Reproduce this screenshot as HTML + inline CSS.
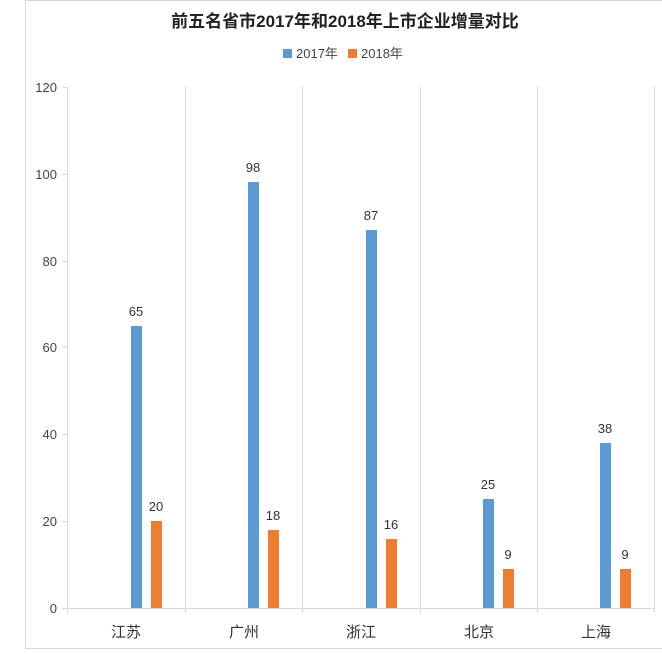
<!DOCTYPE html><html><head><meta charset="utf-8"><style>body{margin:0;background:#fff}svg{display:block}</style></head><body>
<svg width="662" height="654" xmlns="http://www.w3.org/2000/svg" font-family="Liberation Sans, Noto Sans CJK SC, sans-serif">
<rect x="25.5" y="0.5" width="660" height="648" fill="#fff" stroke="#d9d9d9"/>
<text x="345" y="27" text-anchor="middle" font-size="17" font-weight="bold" fill="#222">前五名省市2017年和2018年上市企业增量对比</text>
<rect x="283" y="49" width="9" height="9" fill="#5b9bd5"/><text x="296" y="58" font-size="13" fill="#444">2017年</text>
<rect x="348" y="49" width="9" height="9" fill="#ed7d31"/><text x="361" y="58" font-size="13" fill="#444">2018年</text>
<g stroke="#d9d9d9" stroke-width="1">
<line x1="67.5" y1="87" x2="67.5" y2="613"/><line x1="185.5" y1="87" x2="185.5" y2="613"/><line x1="302.5" y1="87" x2="302.5" y2="613"/><line x1="420.5" y1="87" x2="420.5" y2="613"/><line x1="537.5" y1="87" x2="537.5" y2="613"/><line x1="654.5" y1="87" x2="654.5" y2="613"/>
<line x1="62" y1="608.5" x2="655" y2="608.5"/>
<line x1="62" y1="521.5" x2="67" y2="521.5"/><line x1="62" y1="434.5" x2="67" y2="434.5"/><line x1="62" y1="347.5" x2="67" y2="347.5"/><line x1="62" y1="261.5" x2="67" y2="261.5"/><line x1="62" y1="174.5" x2="67" y2="174.5"/><line x1="62" y1="87.5" x2="67" y2="87.5"/>
</g>
<g font-size="13" fill="#444" text-anchor="end">
<text x="57" y="613">0</text><text x="57" y="526">20</text><text x="57" y="439">40</text><text x="57" y="352">60</text><text x="57" y="266">80</text><text x="57" y="179">100</text><text x="57" y="92">120</text>
</g>
<g font-size="15" fill="#333" text-anchor="middle">
<text x="126" y="637">江苏</text><text x="244" y="637">广州</text><text x="361" y="637">浙江</text><text x="479" y="637">北京</text><text x="596" y="637">上海</text>
</g>
<g fill="#5b9bd5">
<rect x="131" y="326" width="11" height="282"/><rect x="248" y="182" width="11" height="426"/><rect x="366" y="230" width="11" height="378"/><rect x="483" y="499" width="11" height="109"/><rect x="600" y="443" width="11" height="165"/>
</g>
<g fill="#ed7d31">
<rect x="151" y="521" width="11" height="87"/><rect x="268" y="530" width="11" height="78"/><rect x="386" y="539" width="11" height="69"/><rect x="503" y="569" width="11" height="39"/><rect x="620" y="569" width="11" height="39"/>
</g>
<g font-size="13" fill="#333" text-anchor="middle">
<text x="136" y="316">65</text><text x="253" y="172">98</text><text x="371" y="220">87</text><text x="488" y="489">25</text><text x="605" y="433">38</text>
<text x="156" y="511">20</text><text x="273" y="520">18</text><text x="391" y="529">16</text><text x="508" y="559">9</text><text x="625" y="559">9</text>
</g>
</svg></body></html>
